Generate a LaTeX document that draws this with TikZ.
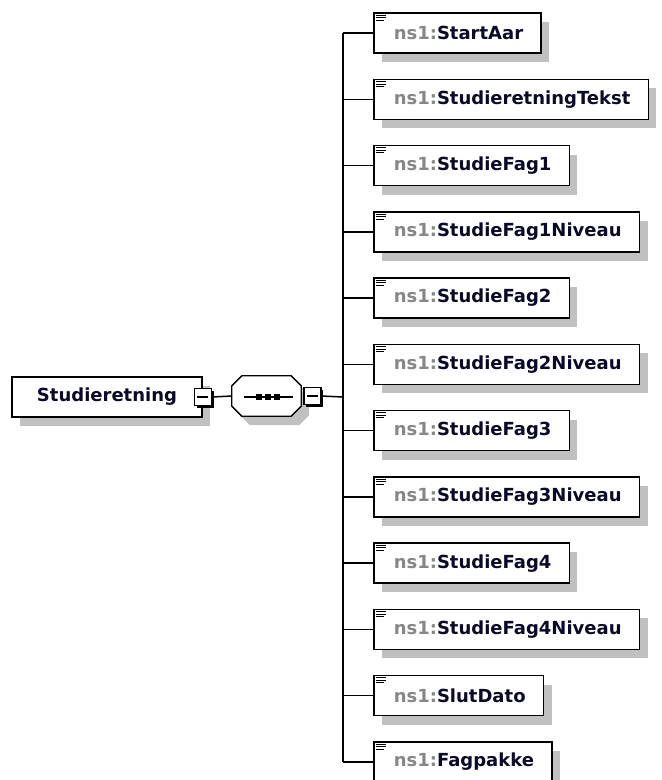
\documentclass[tikz,border=0pt]{standalone}
\usepackage{fontspec}
\setmainfont{DejaVu Sans}
\usetikzlibrary{calc, shadows, positioning}

\definecolor{nsgray}{RGB}{135,135,135}
\definecolor{elemtext}{RGB}{10,10,40}
\definecolor{shade}{RGB}{192,192,192}

\newcommand{\nsp}{\textcolor{nsgray}{ns1:}}

\tikzset{
  gshadow/.style={drop shadow={shadow xshift=8pt, shadow yshift=-9pt, fill=shade, opacity=1}},
  elembox/.style={draw, fill=white, line width=1.5pt, gshadow,
    minimum height=40pt, inner ysep=0pt, text=elemtext},
  childbox/.style={elembox, anchor=west, inner xsep=18pt},
  minusbox/.style={draw, fill=white, line width=1.3pt, minimum size=17pt, inner sep=0pt,
    drop shadow={shadow xshift=2.5pt, shadow yshift=-2.5pt, fill=black, opacity=1},
    path picture={\draw[line width=1.3pt] ([xshift=3pt]path picture bounding box.west)
      -- ([xshift=-3pt]path picture bounding box.east);}},
  link/.style={line width=1.5pt}
}

\begin{document}
\begin{tikzpicture}[x=1pt, y=-1pt,
        every node/.style={font=\bfseries\fontsize{18}{20}\selectfont}]

\useasboundingbox (0,0) rectangle (662,780);

%--- root element ---------------------------------------------
\node[elembox, minimum width=190pt] (root) at (107,397) {Studieretning};
\node[minusbox] (rm) at (root.east) {};

%--- sequence compositor --------------------------------------
\node[minimum width=69pt, minimum height=40pt, inner sep=0pt] (seq) at (266.5,396) {};
\draw[line width=1.3pt, fill=white, gshadow]
  ($(seq.north west)+(10,0)$) -- ($(seq.north east)+(-10,0)$)
  -- ($(seq.north east)+(0,10)$) -- ($(seq.south east)+(0,-10)$)
  -- ($(seq.south east)+(-10,0)$) -- ($(seq.south west)+(10,0)$)
  -- ($(seq.south west)+(0,-10)$) -- ($(seq.north west)+(0,10)$) -- cycle;
\draw[link] ($(seq.center)+(-23,1)$) -- ($(seq.center)+(26,1)$);
\foreach \dx in {-7.5,1.5,10.5}
  \fill ($(seq.center)+(\dx-3,-2)$) rectangle ++(6,6);
\node[minusbox, right=2pt of seq] (sm) {};

\draw[link] (rm.east) -- (seq.west);
\coordinate (bar) at (343,397);
\draw[link] (sm.east) -- (bar);

%--- child elements -------------------------------------------
\foreach \name [count=\i] in {StartAar, StudieretningTekst, StudieFag1,
    StudieFag1Niveau, StudieFag2, StudieFag2Niveau, StudieFag3,
    StudieFag3Niveau, StudieFag4, StudieFag4Niveau, SlutDato, Fagpakke}
{
  \node[childbox] (c\i) at (373,{33+66.27*(\i-1)}) {\hspace*{2pt}\nsp\name};
  % element icon
  \draw[line width=1pt] ($(c\i.north west)+(3,3)$) -- ++(10,0)
                        ($(c\i.north west)+(3,5.5)$) -- ++(10,0)
                        ($(c\i.north west)+(3,8)$) -- ++(8,0);
  \draw[link] (bar |- c\i.west) -- (c\i.west);
}
\draw[link] (bar |- c1.west) -- (bar |- c12.west);

\end{tikzpicture}
\end{document}
